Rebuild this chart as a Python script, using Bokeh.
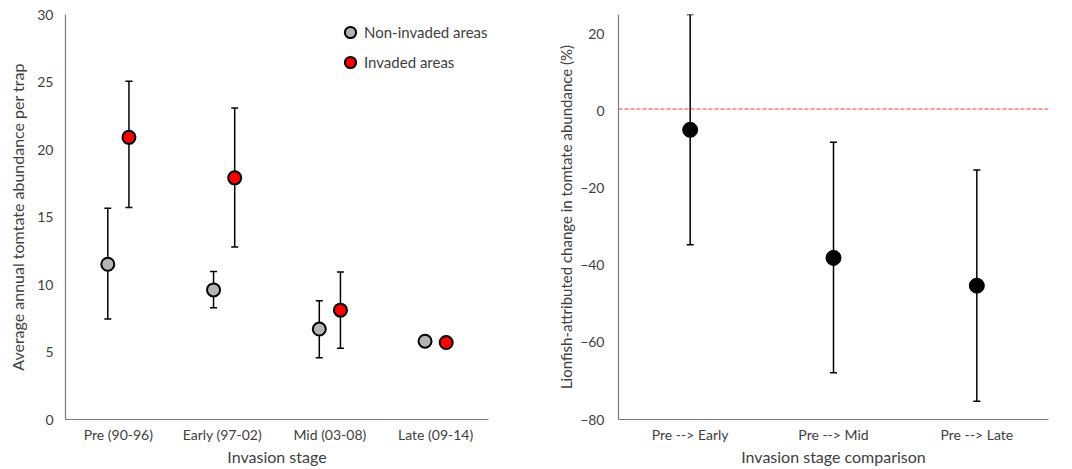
from bokeh.plotting import figure
from bokeh.models import (FactorRange, Range1d, ColumnDataSource, Whisker, TeeHead,
                          Span, Legend, LegendItem, FixedTicker)
from bokeh.transform import dodge
from bokeh.layouts import row
from bokeh.embed import file_html
from bokeh.resources import INLINE

# ---- Left chart data ----
stages = ["Pre (90-96)", "Early  (97-02)", "Mid (03-08)", "Late (09-14)"]
non_mean = [11.5, 9.6, 6.7, 5.8]
non_low = [7.45, 8.27, 4.57, 5.6]
non_high = [15.65, 10.96, 8.79, 6.0]
inv_mean = [20.9, 17.9, 8.1, 5.7]
inv_low = [15.7, 12.77, 5.28, 5.28]
inv_high = [25.05, 23.08, 10.92, 6.08]
left_yticks = [0, 5, 10, 15, 20, 25, 30]

# ---- Right chart data ----
comparisons = ["Pre --> Early", "Pre --> Mid", "Pre --> Late"]
change_mean = [-4.9, -38.1, -45.3]
change_low = [-34.7, -67.9, -75.3]
change_high = [25.0, -8.1, -15.3]
right_yticks = [-80, -60, -40, -20, 0, 20]
zero_line = 0.5

FONT = "Lato"
TXT = "#404040"
AXC = "#7a7a7a"


def style(p, yticks):
    p.outline_line_color = None
    p.xgrid.grid_line_color = None
    p.ygrid.grid_line_color = None
    p.background_fill_color = "white"
    p.border_fill_color = "white"
    for ax in (p.xaxis[0], p.yaxis[0]):
        ax.axis_line_color = AXC
        ax.axis_line_width = 1.2
        ax.major_tick_line_color = None
        ax.minor_tick_line_color = None
        ax.major_tick_out = 0
        ax.major_tick_in = 0
        ax.minor_tick_out = 0
        ax.major_label_text_font = FONT
        ax.major_label_text_font_size = "14px"
        ax.major_label_text_color = TXT
        ax.axis_label_text_font = FONT
        ax.axis_label_text_font_size = "16px"
        ax.axis_label_text_color = TXT
        ax.axis_label_text_font_style = "normal"
    p.xaxis[0].major_label_standoff = 6
    p.xaxis[0].axis_label_standoff = 1
    p.yaxis[0].ticker = FixedTicker(ticks=yticks)


# ---------------- Left figure ----------------
p1 = figure(frame_width=423, frame_height=405, x_range=FactorRange(*stages),
            y_range=Range1d(0, 30), output_backend="svg", toolbar_location=None,
            min_border_left=65, min_border_right=52, min_border_top=14, min_border_bottom=48)
p1.x_range.range_padding = 0
style(p1, left_yticks)
p1.yaxis[0].major_label_standoff = 12
p1.yaxis[0].axis_label_standoff = 7
p1.xaxis.axis_label = "Invasion stage"
p1.yaxis.axis_label = "Average annual tomtate abundance per trap"

src_non = ColumnDataSource(dict(stage=stages, y=non_mean, lo=non_low, hi=non_high))
src_inv = ColumnDataSource(dict(stage=stages, y=inv_mean, lo=inv_low, hi=inv_high))

for src, off in ((src_non, -0.1), (src_inv, 0.1)):
    w = Whisker(source=src, base=dodge("stage", off, range=p1.x_range), upper="hi", lower="lo",
                line_color="black", line_width=1.5, level="underlay",
                upper_head=TeeHead(size=7, line_width=1.5, line_color="black"),
                lower_head=TeeHead(size=7, line_width=1.5, line_color="black"))
    p1.add_layout(w)

r_non = p1.scatter(x=dodge("stage", -0.1, range=p1.x_range), y="y", source=src_non, size=13,
                   fill_color="#b4b4b4", line_color="black", line_width=2)
r_inv = p1.scatter(x=dodge("stage", 0.1, range=p1.x_range), y="y", source=src_inv, size=13,
                   fill_color="#ff0000", line_color="black", line_width=2)

leg = Legend(items=[LegendItem(label="Non-invaded areas", renderers=[r_non]),
                    LegendItem(label="Invaded areas", renderers=[r_inv])],
             location=(271, 405 - 4 - 58), glyph_width=28, glyph_height=28, label_height=28,
             spacing=2, padding=0, margin=0, label_standoff=0,
             label_text_font=FONT, label_text_font_size="15px", label_text_color=TXT,
             border_line_color=None, background_fill_alpha=0)
p1.add_layout(leg)

# ---------------- Right figure ----------------
p2 = figure(frame_width=430, frame_height=405, x_range=FactorRange(*comparisons),
            y_range=Range1d(-80, 25), output_backend="svg", toolbar_location=None,
            min_border_left=78, min_border_right=16, min_border_top=14, min_border_bottom=48)
p2.x_range.range_padding = 0
style(p2, right_yticks)
p2.yaxis[0].major_label_standoff = 14
p2.yaxis[0].axis_label_standoff = 2
p2.yaxis[0].axis_label_text_font_size = "15px"
p2.xaxis.axis_label = "Invasion stage comparison"
p2.yaxis.axis_label = "Lionfish-attributed change in tomtate abundance (%)"

p2.add_layout(Span(location=zero_line, dimension="width", line_color="#ff3333",
                   line_width=1, line_dash="4 2", level="underlay"))

src_ch = ColumnDataSource(dict(comp=comparisons, y=change_mean, lo=change_low, hi=change_high))
p2.add_layout(Whisker(source=src_ch, base="comp", upper="hi", lower="lo",
                      line_color="black", line_width=1.5, level="underlay",
                      upper_head=TeeHead(size=7, line_width=1.5, line_color="black"),
                      lower_head=TeeHead(size=7, line_width=1.5, line_color="black")))
p2.scatter(x="comp", y="y", source=src_ch, size=15, fill_color="black", line_color="black")

layout = row(p1, p2)
open("out.html", "w").write(file_html(layout, INLINE))
